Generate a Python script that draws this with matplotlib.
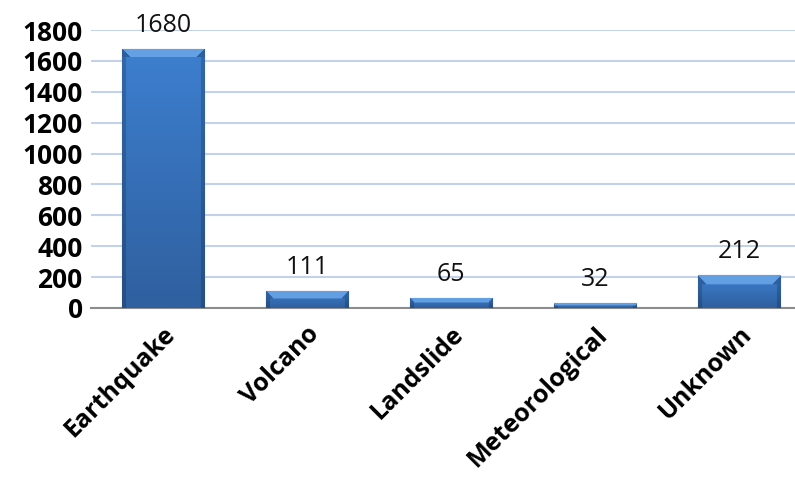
import numpy as np
import matplotlib
matplotlib.use('Agg')
import matplotlib.pyplot as plt
from matplotlib.colors import to_rgb

# data
categories = ['Earthquake', 'Volcano', 'Landslide', 'Meteorological', 'Unknown']
counts = [1680, 111, 65, 32, 212]
yticks = [0, 200, 400, 600, 800, 1000, 1200, 1400, 1600, 1800]

plt.rcParams['font.family'] = ['Open Sans', 'DejaVu Sans']

fig = plt.figure(figsize=(7.95, 4.9), dpi=100)
ax = fig.add_axes([91/795, 1 - 308/490, 704/795, 278/490])

x = np.arange(len(categories))
bars = ax.bar(x, counts, width=0.57, color='#3a72bd', edgecolor='#2b568f',
              linewidth=0.8, zorder=3)

ax.set_xlim(-0.5, -0.5 + 704/144)
ax.set_ylim(0, 1800)
fig.canvas.draw()


def bar_image(wpx, hpx):
    # bevelled blue face, built in pixel units
    wpx, hpx = max(int(wpx), 2), max(int(hpx), 2)
    rows = np.arange(hpx)[:, None]
    cols = np.arange(wpx)[None, :]
    t = rows / max(hpx - 1, 1)
    c_top, c_bot = np.array(to_rgb('#3d7fcf')), np.array(to_rgb('#2f609f'))
    img = c_top * (1 - t[..., None]) + c_bot * t[..., None]
    img = np.broadcast_to(img, (hpx, wpx, 3)).copy()
    edge = 4
    dist = np.minimum(cols, wpx - 1 - cols)
    side = (dist < edge) & (rows >= 0)
    img[side] = img[side] * 0.82
    bev = min(9, max(hpx // 2, 1))
    light = np.array(to_rgb('#6aa6e8'))
    lmask = (rows < bev) & (dist >= rows)
    img[lmask] = light * 0.85 + img[lmask] * 0.15
    dmask = (rows < bev) & (dist < rows)
    img[dmask] = np.array(to_rgb('#2d5e9e'))
    return img


for b in bars:
    bx, bw, bh = b.get_x(), b.get_width(), b.get_height()
    (x0, y0), (x1, y1) = ax.transData.transform([(bx, 0), (bx + bw, bh)])
    im = ax.imshow(bar_image(x1 - x0, y1 - y0), extent=[bx, bx + bw, 0, bh],
                   aspect='auto', interpolation='bilinear', zorder=4)
    im.set_clip_path(b)
    ax.text(bx + bw / 2, bh + 70, str(int(bh)), ha='center', va='bottom',
            fontsize=18, color='#111111', zorder=6)

ax.set_xlim(-0.5, -0.5 + 704/144)
ax.set_ylim(0, 1800)
ax.set_yticks(yticks)
ax.set_yticklabels([str(v) for v in yticks], fontsize=19, fontweight='bold')
ax.set_xticks(x)
ax.set_xticklabels(categories, rotation=45, ha='right', rotation_mode='anchor',
                   fontsize=18, fontweight='bold')
ax.tick_params(axis='both', length=0)
ax.tick_params(axis='x', pad=10)
ax.tick_params(axis='y', pad=6)

ax.grid(axis='y', color='#c3d1ea', linewidth=1.5, zorder=0)
for s in ['top', 'right', 'left']:
    ax.spines[s].set_visible(False)
ax.spines['bottom'].set_color('#8c8c8c')
ax.spines['bottom'].set_linewidth(1.5)
ax.spines['bottom'].set_zorder(2)

fig.savefig('out.png', dpi=100)
